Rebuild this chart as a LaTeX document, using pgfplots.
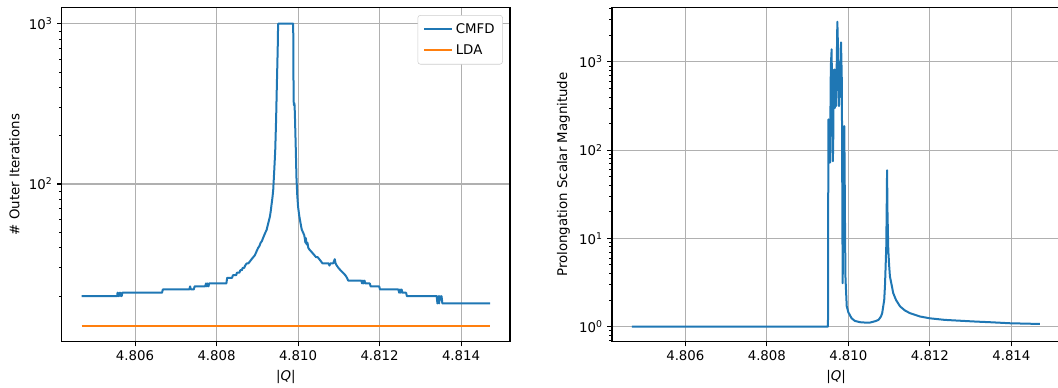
\documentclass[border=0pt]{standalone}
\usepackage{fontspec}
\setmainfont{DejaVu Sans}
\usepackage{pgfplots}
\pgfplotsset{compat=1.18}
\definecolor{C0}{HTML}{1F77B4}
\definecolor{C1}{HTML}{FF7F0E}
\definecolor{gridc}{HTML}{B0B0B0}
\definecolor{legc}{HTML}{CCCCCC}

\pgfplotstableread{
q v
4.80469 20
4.80556 20
4.80557 21
4.80559 20
4.80561 21
4.80563 20
4.80565 21
4.80567 20
4.80569 21
4.80666 21
4.80668 22
4.80733 22
4.80735 23
4.80737 22
4.80744 22
4.80746 23
4.80772 23
4.80774 24
4.80776 23
4.80778 24
4.80780 23
4.80782 24
4.80824 24
4.80826 26
4.80838 26
4.80840 27
4.80848 27
4.80850 28
4.80856 28
4.80858 29
4.80862 29
4.80864 30
4.80868 30
4.80870 31
4.80874 32
4.80878 32
4.80882 33
4.80886 34
4.80890 35
4.80894 36
4.80898 38
4.80902 40
4.80905 41
4.80908 43
4.80911 44
4.80914 46
4.80917 48
4.80920 50
4.80923 52
4.80926 56
4.80929 60
4.80931 63
4.80933 68
4.80935 75
4.80937 82
4.80939 92
4.80941 115
4.80943 145
4.80944 165
4.80946 250
4.80948 424
4.80950 700
4.80951 1000
4.80988 1000
4.80989 330
4.80990 310
4.80991 320
4.80992 280
4.80994 180
4.80996 110
4.80998 85
4.81000 72
4.81003 63
4.81006 57
4.81009 52
4.81012 50
4.81015 48
4.81017 45
4.81018 43
4.81019 46
4.81021 42
4.81023 43
4.81025 40
4.81028 39
4.81032 38
4.81036 37
4.81040 36
4.81044 35
4.81048 35
4.81052 34
4.81056 33
4.81060 32
4.81075 32
4.81077 31
4.81079 32
4.81086 32
4.81088 33
4.81090 34
4.81092 32
4.81095 31
4.81099 30
4.81104 29
4.81110 28
4.81116 27
4.81120 26
4.81123 25
4.81155 25
4.81157 24
4.81159 25
4.81161 24
4.81163 25
4.81165 24
4.81176 24
4.81178 23
4.81199 23
4.81201 22
4.81246 22
4.81248 21
4.81250 22
4.81252 21
4.81254 22
4.81256 21
4.81265 21
4.81267 20
4.81340 20
4.81342 18
4.81344 20
4.81346 18
4.81348 20
4.81350 19
4.81352 20
4.81354 18
4.81471 18
}\cmfd

\pgfplotstableread{
q v
4.80469 13
4.81471 13
}\lda

\pgfplotstableread{
q v
4.80469 1.0
4.80950 1.0
4.80951 223
4.80953 75
4.80954 200
4.80955 72
4.80957 900
4.80959 1390
4.80960 300
4.80962 75
4.80963 140
4.80964 800
4.80966 820
4.80967 300
4.80968 700
4.80970 316
4.80973 2850
4.80975 1200
4.80977 316
4.80978 900
4.80980 400
4.80982 1660
4.80984 600
4.80986 3.1
4.80990 187
4.80991 50
4.80992 10
4.80993 3.5
4.80996 1.7
4.81000 1.45
4.81008 1.24
4.81016 1.16
4.81029 1.12
4.81041 1.11
4.81053 1.11
4.81066 1.15
4.81074 1.19
4.81080 1.3
4.81083 1.42
4.81088 2
4.81090 3
4.81093 8
4.81094 20
4.81095 59
4.81096 20
4.81098 7.4
4.81100 5
4.81102 3.7
4.81106 3
4.81110 2.4
4.81117 2
4.81127 1.69
4.81139 1.52
4.81151 1.42
4.81176 1.3
4.81200 1.24
4.81237 1.19
4.81266 1.17
4.81311 1.14
4.81348 1.12
4.81397 1.09
4.81470 1.07
}\prol

\begin{document}
\begin{tikzpicture}
\useasboundingbox (-46.3pt,-34pt) rectangle (747.2pt,256.3pt);
\begin{axis}[
  scale only axis, width=336.2pt, height=250.8pt,
  at={(0pt,0pt)}, anchor=south west,
  xmin=4.8042, xmax=4.8152,
  ymode=log,
  ymin=10.39, ymax=1264,
  tick pos=left, tick align=outside,
  axis line style={line width=0.8pt},
  major tick length=3.5pt, minor tick length=2pt,
  major tick style={black, line width=0.8pt},
  minor tick style={black, line width=0.6pt},
  xmajorgrids, ymajorgrids,
  major grid style={gridc, line width=0.8pt},
  xtick={4.806,4.808,4.810,4.812,4.814},
  xticklabels={4.806,4.808,4.810,4.812,4.814},
  scaled x ticks=false,
  tick label style={font=\fontsize{10}{12}\selectfont},
  label style={font=\fontsize{10}{12}\selectfont},
  xlabel={|\textit{Q}|},
  ytick={100,1000},
  yticklabels={10\textsuperscript{2},10\textsuperscript{3}},
  minor ytick={20,30,40,50,60,70,80,90,200,300,400,500,600,700,800,900},
  ylabel={\# Outer Iterations},
  legend style={at={(0.984,0.977)}, anchor=north east, draw=legc,
    rounded corners=2pt, fill=white,
    font=\fontsize{10}{12}\selectfont, row sep=3pt, inner xsep=4pt, inner ysep=4pt,
    nodes={inner sep=2pt}},
  legend cell align=left,
  legend image code/.code={\draw[#1] (0pt,0pt) -- (21pt,0pt);},
]
\addplot[C0, line width=1.5pt, line join=round, mark=none] table[x=q, y=v] {\cmfd};
\addlegendentry{CMFD}
\addplot[C1, line width=1.5pt, line join=round, mark=none] table[x=q, y=v] {\lda};
\addlegendentry{LDA}
\end{axis}

\begin{axis}[
  scale only axis, width=336.2pt, height=250.8pt,
  at={(412.7pt,0pt)}, anchor=south west,
  xmin=4.8042, xmax=4.8152,
  ymode=log,
  ymin=0.673, ymax=4150,
  tick pos=left, tick align=outside,
  axis line style={line width=0.8pt},
  major tick length=3.5pt, minor tick length=2pt,
  major tick style={black, line width=0.8pt},
  minor tick style={black, line width=0.6pt},
  xmajorgrids, ymajorgrids,
  major grid style={gridc, line width=0.8pt},
  xtick={4.806,4.808,4.810,4.812,4.814},
  xticklabels={4.806,4.808,4.810,4.812,4.814},
  scaled x ticks=false,
  tick label style={font=\fontsize{10}{12}\selectfont},
  label style={font=\fontsize{10}{12}\selectfont},
  xlabel={|\textit{Q}|},
  ytick={1,10,100,1000},
  yticklabels={10\textsuperscript{0},10\textsuperscript{1},10\textsuperscript{2},10\textsuperscript{3}},
  minor ytick={0.7,0.8,0.9,2,3,4,5,6,7,8,9,20,30,40,50,60,70,80,90,200,300,400,500,600,700,800,900,2000,3000,4000},
  ylabel={Prolongation Scalar Magnitude},
]
\addplot[C0, line width=1.5pt, line join=round, mark=none] table[x=q, y=v] {\prol};
\end{axis}
\end{tikzpicture}
\end{document}
